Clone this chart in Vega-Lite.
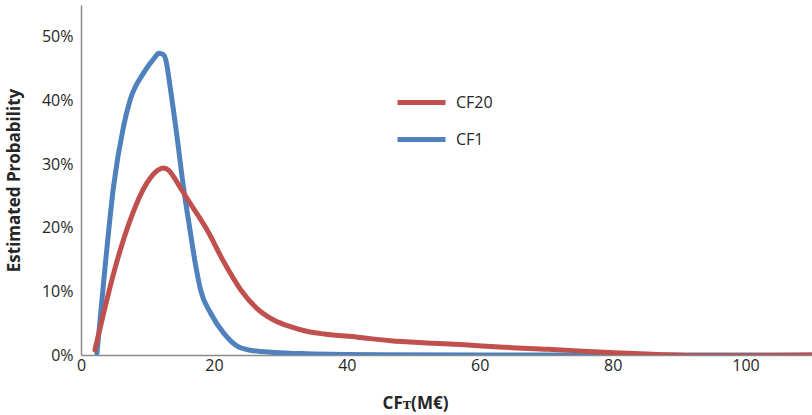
{
  "$schema": "https://vega.github.io/schema/vega-lite/v6.json",
  "autosize": {"type": "none"},
  "width": 731,
  "height": 350,
  "padding": {"left": 81, "top": 5, "right": 0, "bottom": 60},
  "background": "white",
  "config": {
    "view": {"stroke": null},
    "font": "Open Sans"
  },
  "data": {
    "values": [
      {"series": "CF1", "x": 2.4, "y": 0.003},
      {"series": "CF1", "x": 3.5, "y": 0.125},
      {"series": "CF1", "x": 4.9, "y": 0.265},
      {"series": "CF1", "x": 6.4, "y": 0.359},
      {"series": "CF1", "x": 7.4, "y": 0.401},
      {"series": "CF1", "x": 9.4, "y": 0.443},
      {"series": "CF1", "x": 11.0, "y": 0.466},
      {"series": "CF1", "x": 11.7, "y": 0.474},
      {"series": "CF1", "x": 12.4, "y": 0.472},
      {"series": "CF1", "x": 12.8, "y": 0.462},
      {"series": "CF1", "x": 13.4, "y": 0.422},
      {"series": "CF1", "x": 14.45, "y": 0.343},
      {"series": "CF1", "x": 15.4, "y": 0.265},
      {"series": "CF1", "x": 16.5, "y": 0.19},
      {"series": "CF1", "x": 17.2, "y": 0.144},
      {"series": "CF1", "x": 18.0, "y": 0.102},
      {"series": "CF1", "x": 19.5, "y": 0.066},
      {"series": "CF1", "x": 21.5, "y": 0.034},
      {"series": "CF1", "x": 23.5, "y": 0.014},
      {"series": "CF1", "x": 25.5, "y": 0.0075},
      {"series": "CF1", "x": 29.0, "y": 0.004},
      {"series": "CF1", "x": 34.0, "y": 0.002},
      {"series": "CF1", "x": 45.0, "y": 0.0005},
      {"series": "CF1", "x": 60.0, "y": 0.0},
      {"series": "CF1", "x": 80.0, "y": 0.0},
      {"series": "CF1", "x": 110.0, "y": 0.0},
      {"series": "CF20", "x": 2.1, "y": 0.008},
      {"series": "CF20", "x": 3.5, "y": 0.07},
      {"series": "CF20", "x": 4.9, "y": 0.128},
      {"series": "CF20", "x": 7.4, "y": 0.212},
      {"series": "CF20", "x": 9.9, "y": 0.27},
      {"series": "CF20", "x": 11.5, "y": 0.29},
      {"series": "CF20", "x": 12.4, "y": 0.294},
      {"series": "CF20", "x": 13.2, "y": 0.29},
      {"series": "CF20", "x": 14.0, "y": 0.279},
      {"series": "CF20", "x": 15.0, "y": 0.262},
      {"series": "CF20", "x": 16.45, "y": 0.238},
      {"series": "CF20", "x": 17.7, "y": 0.218},
      {"series": "CF20", "x": 19.0, "y": 0.196},
      {"series": "CF20", "x": 21.5, "y": 0.146},
      {"series": "CF20", "x": 24.0, "y": 0.103},
      {"series": "CF20", "x": 26.5, "y": 0.073},
      {"series": "CF20", "x": 29.0, "y": 0.055},
      {"series": "CF20", "x": 31.5, "y": 0.0445},
      {"series": "CF20", "x": 34.1, "y": 0.037},
      {"series": "CF20", "x": 36.6, "y": 0.033},
      {"series": "CF20", "x": 41.6, "y": 0.028},
      {"series": "CF20", "x": 46.6, "y": 0.0225},
      {"series": "CF20", "x": 52.0, "y": 0.019},
      {"series": "CF20", "x": 57.7, "y": 0.016},
      {"series": "CF20", "x": 63.0, "y": 0.0125},
      {"series": "CF20", "x": 70.3, "y": 0.009},
      {"series": "CF20", "x": 80.3, "y": 0.0035},
      {"series": "CF20", "x": 86.0, "y": 0.001},
      {"series": "CF20", "x": 92.0, "y": -0.001},
      {"series": "CF20", "x": 100.0, "y": -0.001},
      {"series": "CF20", "x": 110.0, "y": 0.0}
    ]
  },
  "mark": {"type": "line", "strokeWidth": 5, "interpolate": "monotone", "strokeCap": "round", "strokeJoin": "round", "clip": true},
  "encoding": {
    "x": {
      "field": "x", "type": "quantitative",
      "scale": {"domain": [0, 110], "nice": false, "zero": false},
      "axis": {
        "values": [0, 20, 40, 60, 80, 100],
        "title": "CFᴛ(M€)",
        "titleFont": "Open Sans", "titleFontSize": 17, "titleFontWeight": "bold", "titleColor": "#262626",
        "titleX": 334, "titleAlign": "center",
        "titlePadding": 22,
        "labelFont": "Open Sans", "labelFontSize": 16, "labelColor": "#262626",
        "labelPadding": 2,
        "labelFlush": false,
        "ticks": false, "grid": false,
        "domainColor": "#8c8c8c", "domainWidth": 1.5
      }
    },
    "y": {
      "field": "y", "type": "quantitative",
      "scale": {"domain": [0, 0.55], "nice": false},
      "axis": {
        "values": [0, 0.1, 0.2, 0.3, 0.4, 0.5],
        "format": ".0%",
        "title": "Estimated Probability",
        "titleFont": "Open Sans", "titleFontSize": 17, "titleFontWeight": "bold", "titleColor": "#262626",
        "titlePadding": 18,
        "labelFont": "Open Sans", "labelFontSize": 16, "labelColor": "#262626",
        "labelPadding": 8,
        "labelFlush": false,
        "ticks": false, "grid": false,
        "domainColor": "#8c8c8c", "domainWidth": 1.5
      }
    },
    "color": {
      "field": "series", "type": "nominal",
      "scale": {"domain": ["CF20", "CF1"], "range": ["#C0504D", "#4F81BD"]},
      "legend": {
        "title": null,
        "orient": "none",
        "legendX": 314,
        "legendY": 71,
        "padding": 0,
        "symbolType": "stroke",
        "symbolSize": 2304,
        "symbolStrokeWidth": 5,
        "labelFont": "Open Sans", "labelFontSize": 16, "labelColor": "#262626",
        "labelOffset": 8,
        "rowPadding": -2
      }
    }
  }
}
